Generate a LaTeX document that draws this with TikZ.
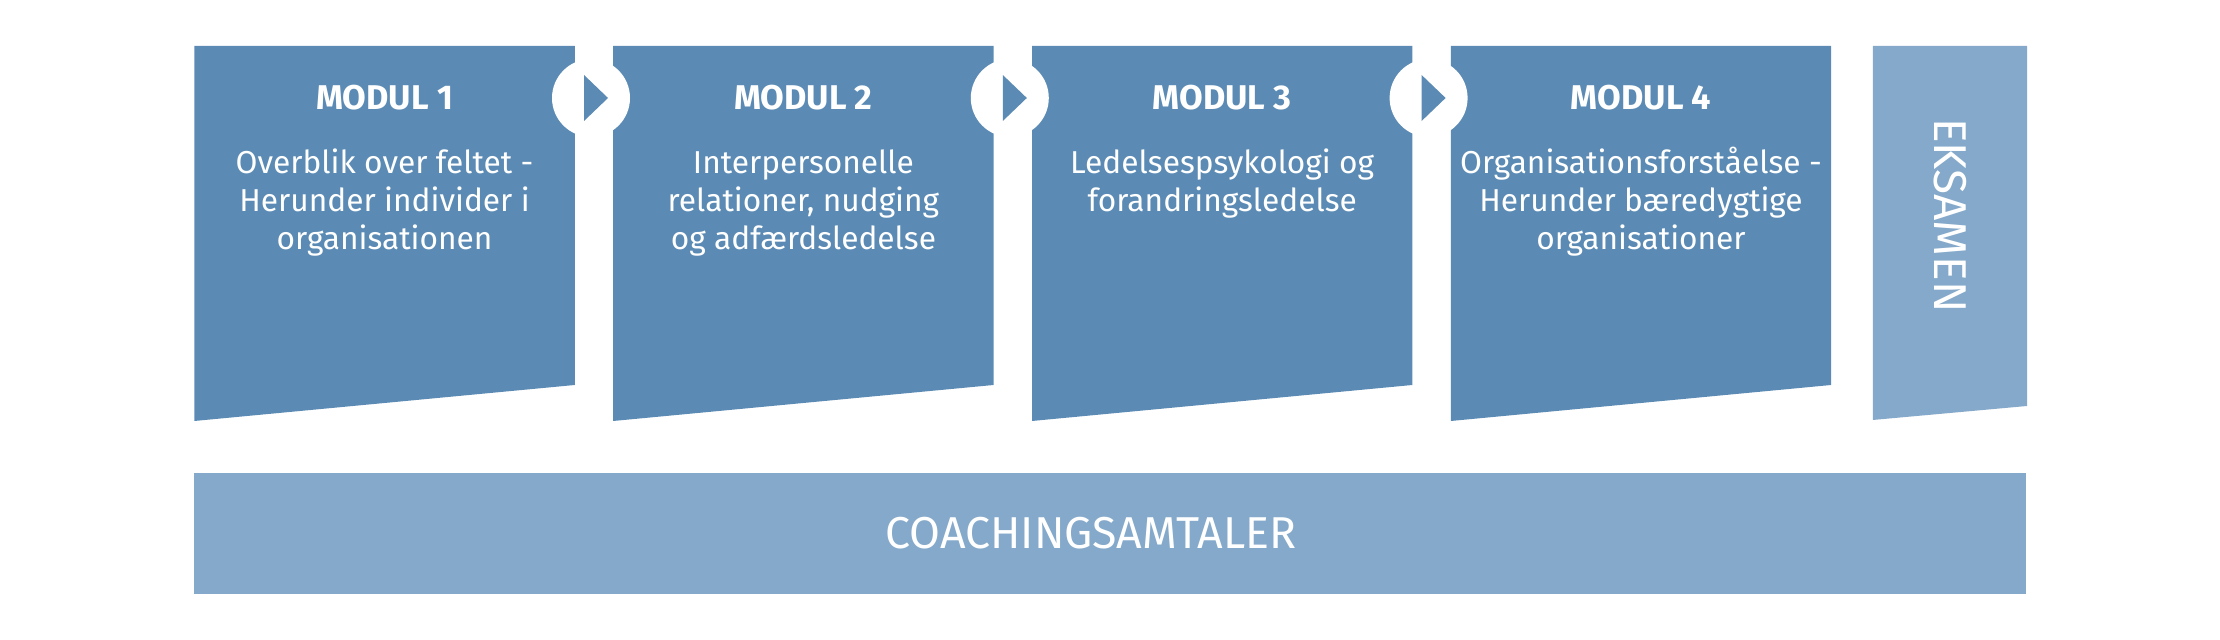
\documentclass[tikz,border=0pt]{standalone}
\usepackage{fontspec}
\setmainfont{Fira Sans}
\definecolor{modulblue}{HTML}{5B8BB4}
\definecolor{lightblue}{HTML}{85A9CA}
\tikzset{
  modultitle/.style={text=white,inner sep=0pt,font=\bfseries\fontsize{10.3}{12}\selectfont},
  modultext/.style={text=white,inner sep=0pt,align=center,font=\fontsize{9.5}{11.4}\selectfont},
  bigtext/.style={text=white,inner sep=0pt,font=\fontsize{13.4}{16}\selectfont},
}
\begin{document}
\begin{tikzpicture}[x=0.3pt,y=-0.3pt]
\useasboundingbox (0,0) rectangle (2220,640);
% moduler (\n = antal linjer)
\foreach \i/\n/\title/\txt in {0/3/MODUL 1/{Overblik over feltet -\\Herunder individer i\\organisationen},
  1/3/MODUL 2/{Interpersonelle\\relationer, nudging\\og adfærdsledelse},
  2/2/MODUL 3/{Ledelsespsykologi og\\forandringsledelse},
  3/3/MODUL 4/{Organisationsforståelse -\\Herunder bæredygtige\\organisationer}} {
  \fill[modulblue] (194.4+418.8*\i,46) -- (574.8+418.8*\i,46) -- (574.8+418.8*\i,385) -- (194.4+418.8*\i,421) -- cycle;
  \node[modultitle] (titel\i) at (384.6+418.8*\i,98) {\title};
  \node[modultext,anchor=base] (tekst\i) at (384.6+418.8*\i,135.5+38*\n) {\txt};
}
% pile mellem modulerne
\foreach \i in {0,1,2} {
  \fill[white] (591+418.8*\i,98) circle[radius=39];
  \fill[modulblue] (584+418.8*\i,75) -- (608+418.8*\i,98) -- (584+418.8*\i,121) -- cycle;
}
% eksamen
\fill[lightblue] (1872.8,46) -- (2027,46) -- (2027,406) -- (1872.8,420) -- cycle;
\node[bigtext,rotate=-90,font=\fontsize{13.8}{17}\selectfont] (eksamen) at (1950,215.5) {EKSAMEN};
% coaching
\fill[lightblue] (194.4,473.5) rectangle (2026,594);
\node[bigtext] (coaching) at (1091,533.5) {COACHINGSAMTALER};
\end{tikzpicture}
\end{document}
